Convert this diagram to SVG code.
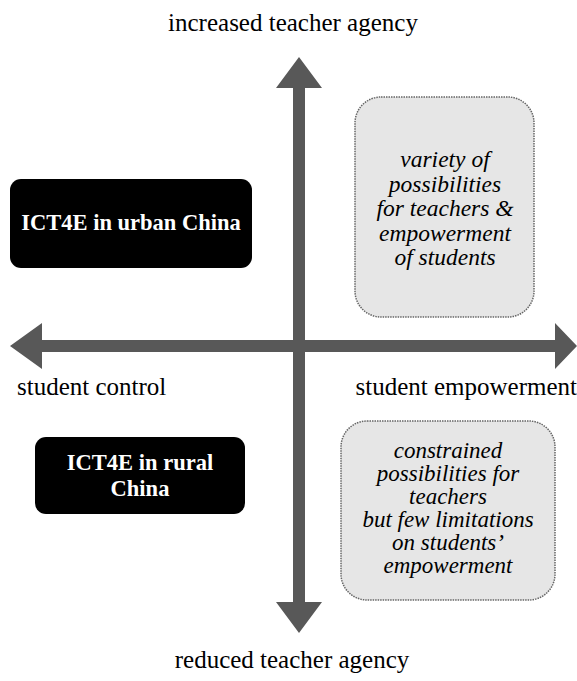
<svg xmlns="http://www.w3.org/2000/svg" width="577" height="681" viewBox="0 0 577 681">
<style>
.lbl{font-family:"Liberation Serif","Times New Roman",serif;font-size:25px;fill:#000}
.dark rect{fill:#000}
.dark text{font-family:"Liberation Serif","Times New Roman",serif;font-size:22.5px;font-weight:bold;fill:#fff;text-anchor:middle}
.light rect{fill:#e6e6e6;stroke:#666;stroke-width:1.5;stroke-dasharray:1.5 1}
.light text{font-family:"Liberation Serif","Times New Roman",serif;font-size:23px;font-style:italic;fill:#000;text-anchor:middle}
#variety text{font-size:23.5px}
.arrow{fill:#585858}
</style>
<rect width="577" height="681" fill="#fff"/>
<g id="connectors">
<polygon class="arrow" points="299,57 322,88 305,88 305,602 322,602 299,633 276,602 293,602 293,88 276,88"/>
<polygon class="arrow" points="10,346 42,323 42,340 555,340 555,323 577,346 555,369 555,352 42,352 42,369"/>
</g>
<g id="label-top"><text class="lbl" x="293" y="31" text-anchor="middle">increased teacher agency</text></g>
<g id="label-bottom"><text class="lbl" x="292" y="668" text-anchor="middle">reduced teacher agency</text></g>
<g id="label-left"><text class="lbl" x="17" y="395">student control</text></g>
<g id="label-right"><text class="lbl" x="577" y="395" text-anchor="end">student empowerment</text></g>
<g id="urban" class="dark">
<rect x="10" y="179" width="242" height="89" rx="11"/>
<text x="131" y="230">ICT4E in urban China</text>
</g>
<g id="rural" class="dark">
<rect x="35" y="437" width="210" height="77" rx="11"/>
<text x="140" y="470">ICT4E in rural</text>
<text x="140" y="496">China</text>
</g>
<g id="variety" class="light">
<rect x="355" y="97" width="179" height="220" rx="26"/>
<text x="445" y="167">variety of</text>
<text x="445" y="191.5">possibilities</text>
<text x="445" y="216">for teachers &amp;</text>
<text x="445" y="240.5">empowerment</text>
<text x="445" y="265">of students</text>
</g>
<g id="constrained" class="light">
<rect x="341" y="421" width="214" height="179" rx="26"/>
<text x="448" y="458">constrained</text>
<text x="448" y="481">possibilities for</text>
<text x="448" y="504">teachers</text>
<text x="448" y="527">but few limitations</text>
<text x="448" y="550">on students’</text>
<text x="448" y="573">empowerment</text>
</g>
</svg>
